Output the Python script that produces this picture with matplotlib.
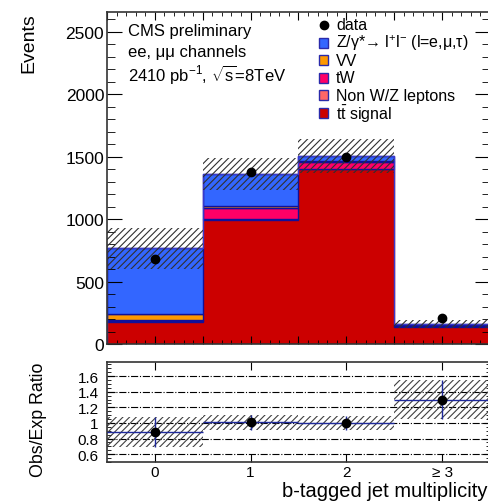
import numpy as np
import matplotlib
matplotlib.use("Agg")
import matplotlib.pyplot as plt
from matplotlib.patches import Rectangle
from matplotlib.ticker import MultipleLocator, FixedLocator

plt.rcParams['font.family'] = ['Liberation Sans', 'DejaVu Sans']
plt.rcParams['mathtext.fontset'] = 'custom'
plt.rcParams['mathtext.rm'] = 'Liberation Sans'
plt.rcParams['mathtext.it'] = 'Liberation Sans:italic'
plt.rcParams['mathtext.bf'] = 'Liberation Sans:bold'
plt.rcParams['hatch.linewidth'] = 0.8

# b-tag multiplicity bins
bins = [0, 1, 2, 3]
bin_labels = ['0', '1', '2', '≥ 3']

# stacked expectations per bin (bottom to top)
ttbar = [180, 995, 1400, 140]
nonwz = [4, 5, 3, 2]
tw = [10, 88, 55, 8]
vv = [50, 16, 5, 1]
dy = [524, 256, 41, 9]

data = [680, 1376, 1500, 208]
mc_rel_unc = [0.215, 0.095, 0.09, 0.19]

ratio_ticks = [0.6, 0.8, 1.0, 1.2, 1.4, 1.6]
ratio_ticklabels = ['0.6', '0.8', '1', '1.2', '1.4', '1.6']

c_dy = '#3366ff'
c_vv = '#ff9900'
c_tw = '#ff0066'
c_nonwz = '#ff6666'
c_tt = '#cc0000'
edge = '#10109a'

x = np.array(bins, dtype=float)
components = [
    (ttbar, c_tt, c_tt),
    (nonwz, c_nonwz, edge),
    (tw, c_tw, edge),
    (vv, c_vv, edge),
    (dy, c_dy, edge),
]

W, H = 489, 502
fig = plt.figure(figsize=(4.89, 5.02), dpi=100)
ax = fig.add_axes([107 / W, 1 - 345 / H, 383 / W, 332 / H])
ax2 = fig.add_axes([107 / W, 1 - 463 / H, 383 / W, 100 / H])

# stacked histogram
bottom = np.zeros(len(bins))
for vals, fc, ec in components:
    vals = np.array(vals, dtype=float)
    ax.bar(x, vals, width=1.0, bottom=bottom, color=fc, edgecolor=ec,
           linewidth=1.0, zorder=1)
    bottom += vals
total = bottom

# total outline
edges = np.append(x - 0.5, x[-1] + 0.5)
ax.stairs(total, edges, color='#3a3acc', linewidth=1.0, zorder=2)

# MC uncertainty band
unc = total * np.array(mc_rel_unc)
ax.bar(x, 2 * unc, width=1.0, bottom=total - unc, fill=False, hatch='/////',
       edgecolor='#303030', linewidth=0, zorder=2)

ax.plot(x, data, 'o', color='black', ms=6, zorder=4)

ax.set_xlim(-0.5, 3.5)
ax.set_ylim(0, 2660)
ax.yaxis.set_major_locator(MultipleLocator(500))
ax.yaxis.set_minor_locator(MultipleLocator(100))
ax.xaxis.set_major_locator(MultipleLocator(0.5))
ax.xaxis.set_minor_locator(MultipleLocator(0.1))
ax.tick_params(which='both', direction='in', top=True, right=True,
               labelbottom=False, labelsize=12.5, pad=2)
ax.tick_params(axis='y', which='major', length=11)
ax.tick_params(axis='y', which='minor', length=5.5)
ax.tick_params(axis='x', which='major', length=6)
ax.tick_params(axis='x', which='minor', length=3)
for sp in ax.spines.values():
    sp.set_linewidth(1.2)
    sp.set_color('#333333')

# header text
fig.text(128 / W, 1 - 32 / H, 'CMS preliminary', fontsize=12, va='center')
fig.text(128 / W, 1 - 53 / H, 'ee, μμ channels', fontsize=12, va='center')
fig.text(128 / W, 1 - 75 / H, r'2410 pb$^{-1}$, $\sqrt{\mathrm{s}}$=8TeV',
         fontsize=12, va='center')

# legend
legend_entries = [
    ('data', None),
    ('Z/γ*→ l$^{+}$l$^{-}$ (l=e,μ,τ)', c_dy),
    ('VV', c_vv),
    ('tW', c_tw),
    ('Non W/Z leptons', c_nonwz),
    (r'$\mathrm{t\bar{t}}$ signal', c_tt),
]
for i, (label, col) in enumerate(legend_entries):
    yc = 26 + i * 17.6
    if col is None:
        fig.lines.append(plt.Line2D([323.5 / W], [1 - yc / H], marker='o',
                                    color='black', ms=6,
                                    transform=fig.transFigure))
    else:
        fig.patches.append(Rectangle((319 / W, 1 - (yc + 5) / H), 9 / W, 10 / H,
                                     facecolor=col, edgecolor='#2a2aaa',
                                     linewidth=1.0, transform=fig.transFigure))
    fig.text(336 / W, 1 - yc / H, label, fontsize=11.5, va='center')

# ratio panel
ratio = np.array(data) / total
ratio_err = ratio * np.array(mc_rel_unc)
ax2.bar(x, 2 * ratio_err, width=1.0, bottom=ratio - ratio_err, fill=False,
        hatch='/////', edgecolor='#404040', linewidth=0, zorder=2)
ax2.errorbar(x, ratio, xerr=0.5, yerr=ratio_err, fmt='o', color='black',
             ecolor='#1f2a9c', elinewidth=1.0, capsize=0, ms=6, zorder=4)
ax2.set_xlim(-0.5, 3.5)
ax2.set_ylim(0.5, 1.78)
ax2.yaxis.set_major_locator(FixedLocator(ratio_ticks))
ax2.set_yticklabels(ratio_ticklabels)
ax2.yaxis.set_minor_locator(MultipleLocator(0.05))
ax2.set_xticks(bins)
ax2.set_xticklabels(bin_labels)
ax2.yaxis.grid(True, which='major', linestyle='-.', color='black',
               linewidth=0.8)
ax2.set_axisbelow(True)
ax2.tick_params(which='both', direction='in', top=True, right=True,
                labelsize=11)
ax2.tick_params(axis='y', which='major', length=6, pad=6)
ax2.tick_params(axis='y', which='minor', length=3)
ax2.tick_params(axis='x', which='major', length=6, pad=2)
for sp in ax2.spines.values():
    sp.set_linewidth(1.2)
    sp.set_color('#333333')

# axis titles
fig.text(29 / W, 1 - 13 / H, 'Events', rotation=90, ha='center', va='top',
         fontsize=14)
fig.text(39 / W, 1 - 420 / H, 'Obs/Exp Ratio', rotation=90, ha='center',
         va='center', fontsize=12.8)
fig.text(488 / W, 1 - 497 / H, 'b-tagged jet multiplicity', ha='right',
         va='baseline', fontsize=14.5)

fig.savefig('out.png', dpi=100)
